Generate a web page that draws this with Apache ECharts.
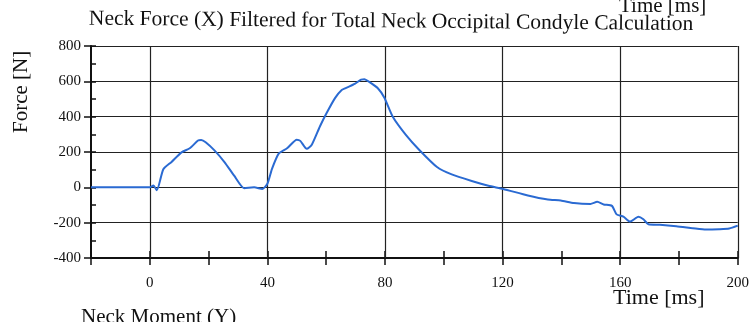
<!DOCTYPE html>
<html><head><meta charset="utf-8">
<script src="https://cdn.jsdelivr.net/npm/echarts@6/dist/echarts.min.js"></script>
<style>html,body{margin:0;padding:0;background:#fff}#c{width:752px;height:322px}</style>
</head><body><div id="c"></div>
<script>
var timeMs = [-20, 0, 1.2, 2.4, 4.6, 7.4, 10.8, 13.6, 16.4, 17.5, 19, 22, 25.4, 28.7, 32.1, 35.5, 38.3, 40, 41.6, 43.9, 46.7, 50, 51.2, 53.4, 55.1, 57.9, 60.2, 63, 65.2, 67.4, 69.7, 71.9, 73, 74.7, 77.5, 79.8, 82.6, 87.1, 91.6, 97.7, 102.7, 109.5, 115.2, 120.2, 128.6, 135.4, 139.8, 144.3, 149.9, 152.2, 154.4, 157.2, 158.8, 161.1, 163.4, 166.2, 167.9, 169.6, 173.5, 179.1, 184.7, 189.2, 193.7, 197.1, 200];
var forceN = [0, 0, 10, -16, 102, 144, 198, 221, 265, 268, 255, 209, 143, 66, -5, 0, -9, 20, 106, 192, 221, 270, 263, 218, 241, 346, 422, 505, 550, 567, 585, 610, 612, 596, 562, 507, 401, 297, 213, 115, 73, 36, 9, -9, -46, -69, -75, -89, -94, -82, -97, -105, -153, -166, -194, -167, -181, -209, -212, -220, -231, -239, -237, -233, -217];
var xGridLines = [0, 40, 80, 120, 160, 200];
var titleText = 'Neck Force (X) Filtered for Total Neck Occipital Condyle Calculation';
var yName = 'Force [N]';
var xName = 'Time [ms]';
var nextTitle = 'Neck Moment (Y)';

var serif = '"Liberation Serif", "DejaVu Serif", serif';
var pts = timeMs.map(function (t, i) { return [t, forceN[i]]; });
var chart = echarts.init(document.getElementById('c'));
chart.setOption({
  animation: false,
  backgroundColor: '#fff',
  grid: { left: 91, right: 10, top: 46, bottom: 64 },
  graphic: [
    { type: 'text', x: 89, y: 8, rotation: -0.009, style: { text: titleText, font: '21.5px ' + serif, fill: '#111' } },
    { type: 'text', left: 619, top: -4, style: { text: xName, font: '21px ' + serif, fill: '#111' } },
    { type: 'text', left: 613, top: 287, style: { text: xName, font: '22px ' + serif, fill: '#111' } },
    { type: 'text', left: 81, top: 307, style: { text: nextTitle, font: '21px ' + serif, fill: '#111' } },
    { type: 'text', x: 11, y: 133, rotation: Math.PI / 2, style: { text: yName, font: '21px ' + serif, fill: '#111' } }
  ],
  xAxis: [{
    type: 'value', min: -20, max: 200, interval: 20,
    axisLine: { onZero: false, lineStyle: { color: '#111', width: 2 } },
    axisTick: { show: true, length: 7, lineStyle: { color: '#111', width: 1.5 } },
    axisLabel: { margin: 18, color: '#111', fontFamily: serif, fontSize: 15,
      formatter: function (v) { return (v % 40 === 0) ? String(v) : ''; } },
    splitLine: { show: false }
  }, {
    type: 'value', min: -20, max: 200, interval: 20, position: 'bottom',
    axisLine: { show: false, onZero: false },
    axisTick: { show: true, inside: true, length: 7, lineStyle: { color: '#111', width: 1.5 } },
    axisLabel: { show: false }, splitLine: { show: false }
  }],
  yAxis: [{
    type: 'value', min: -400, max: 800, interval: 200,
    axisLine: { show: true, onZero: false, lineStyle: { color: '#111', width: 2 } },
    axisTick: { show: true, length: 7, lineStyle: { color: '#111', width: 1.5 } },
    axisLabel: { margin: 10, color: '#111', fontFamily: serif, fontSize: 15 },
    splitLine: { show: true, lineStyle: { color: '#222', width: 1.2 } }
  }, {
    type: 'value', min: -400, max: 800, interval: 100, position: 'left',
    axisLine: { show: false, onZero: false },
    axisTick: { show: true, inside: true, length: 5, lineStyle: { color: '#111', width: 1.5 } },
    axisLabel: { show: false }, splitLine: { show: false }
  }],
  series: [{
    type: 'line', xAxisIndex: 0, yAxisIndex: 0, data: pts, showSymbol: false, smooth: 0.2,
    lineStyle: { color: '#2a6ad2', width: 2 }, z: 5,
    markLine: {
      silent: true, symbol: 'none', label: { show: false },
      lineStyle: { color: '#222', width: 1.2, type: 'solid' },
      data: xGridLines.map(function (v) { return { xAxis: v }; })
    }
  }]
});
</script></body></html>
